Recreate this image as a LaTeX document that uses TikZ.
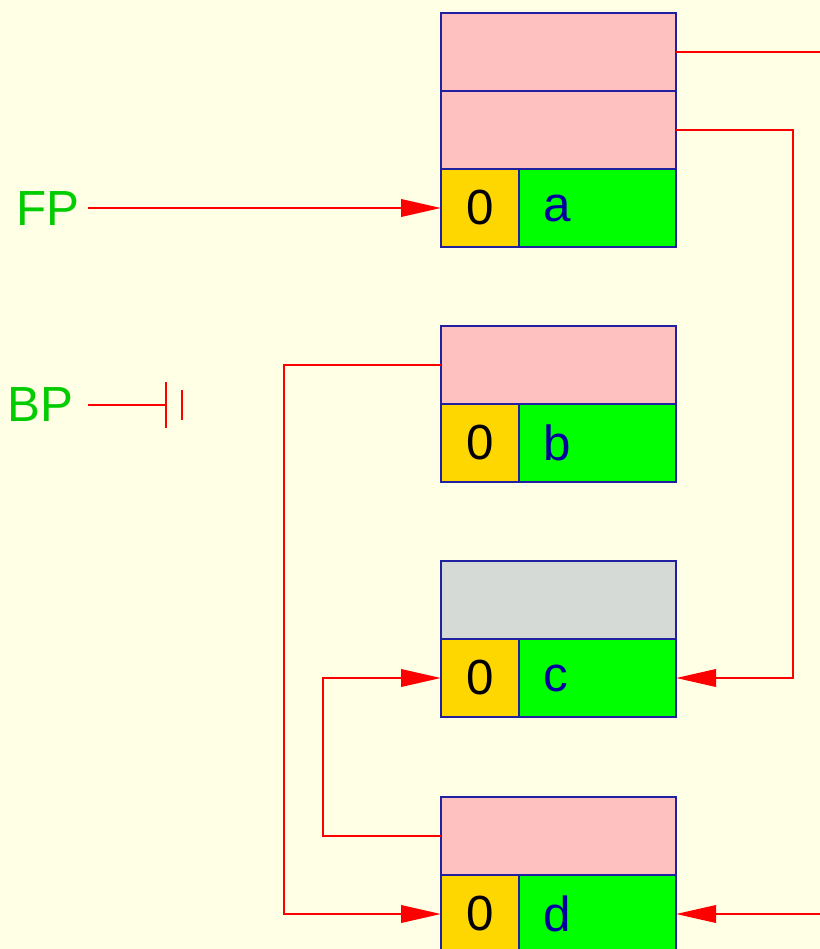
\documentclass[tikz,border=0pt]{standalone}
\usepackage{fontspec}
\setmainfont{Liberation Sans}
\usetikzlibrary{arrows.meta,positioning}
\definecolor{paper}{HTML}{FFFFE6}
\definecolor{slotpink}{HTML}{FFC0C0}
\definecolor{taggold}{HTML}{FFD700}
\definecolor{valgreen}{HTML}{00FF00}
\definecolor{slotgray}{HTML}{D5DAD6}
\definecolor{edgeblue}{HTML}{2020A0}
\definecolor{letterblue}{HTML}{0000A0}
\definecolor{namegreen}{HTML}{00CC00}
\tikzstyle{cell}=[draw=edgeblue,line width=0.8pt,inner sep=0pt,outer sep=0pt,minimum height=58.5pt,font=\fontsize{37}{40}\selectfont]
\tikzstyle{slot}=[cell,fill=slotpink,minimum width=176.25pt,anchor=north west]
\tikzstyle{tag}=[cell,fill=taggold,minimum width=58.5pt,anchor=north west]
\tikzstyle{val}=[cell,fill=valgreen,text=letterblue,inner xsep=18pt,text width=81.75pt,align=left]
\tikzstyle{regname}=[text=namegreen,font=\fontsize{37}{40}\selectfont,inner xsep=9pt,inner ysep=0pt,anchor=east]
\tikzstyle{link} = [draw,red,line width=2pt]
\tikzstyle{ptr} = [link,-{Triangle[length=30pt,width=13pt]}]

\begin{document}
\begin{tikzpicture}[x=0.75pt,y=-0.75pt]
    \useasboundingbox (0,0) rectangle (820,949);
    \fill[paper] (0,0) rectangle (820,949);

    % pink slots on top of each frame
    \node[slot] (a1) at (441,13) {};
    \node[slot,below=0pt of a1] (a2) {};
    \node[slot] (b1) at (441,326) {};
    \node[slot,fill=slotgray] (c1) at (441,561) {};
    \node[slot] (d1) at (441,797) {};

    % bottom row: tag and value
    \foreach \y/ \name in {169/a, 404/b, 639/c, 875/d} {
        \node[tag] (t\name) at (441,\y) {0};
        \node[val,right=0pt of t\name] (v\name) {\name};
    }

    \node[regname] (fp) at (92,209) {FP};
    \node[regname] (bp) at (86,405) {BP};

    \coordinate (fpstart) at (88,208);
    \draw[ptr] (fpstart) -- (ta.west);

    % BP ends in a ground mark
    \coordinate (bpstart) at (88,405);
    \coordinate (bpend) at (166,405);
    \draw[link] (bpstart) -- (bpend);
    \draw[link] (166,382) -- (166,428);
    \draw[link] (182,390) -- (182,420);

    % links between frames
    \coordinate (outa) at (820,52);
    \coordinate (ind) at (820,914);
    \draw[link] (a1.east) -- (outa);
    \draw[ptr] (a2.east) -- ++(117,0) |- (vc.east);
    \draw[ptr] (b1.west) -- ++(-157,0) |- (td.west);
    \draw[ptr] (d1.west) -- ++(-118,0) |- (tc.west);
    \draw[ptr] (ind) -- (vd.east);

\end{tikzpicture}
\end{document}
